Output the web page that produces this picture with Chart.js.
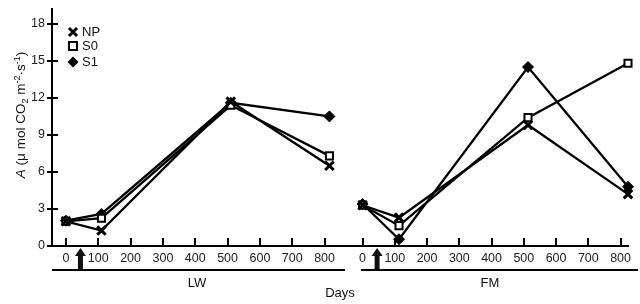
<!DOCTYPE html>
<html><head><meta charset="utf-8">
<script src="https://cdn.jsdelivr.net/npm/chart.js@4/dist/chart.umd.min.js"></script>
<style>
html,body{margin:0;padding:0;background:#fff;}
#wrap{position:relative;width:640px;height:304px;overflow:hidden;}
canvas{position:absolute;left:0;top:0;}
</style></head><body>
<div id="wrap"><canvas id="c1" width="640" height="304"></canvas><canvas id="c2" width="640" height="304"></canvas></div>
<script>
const seriesNames = ['NP', 'S0', 'S1'];
const lwDays = [0, 110, 510, 815];
const fmDays = [0, 113, 513, 823];
const lwNP = [2.0, 1.25, 11.7, 6.5];
const lwS0 = [2.0, 2.25, 11.4, 7.3];
const lwS1 = [2.05, 2.6, 11.6, 10.5];
const fmNP = [3.3, 2.3, 9.8, 4.2];
const fmS0 = [3.3, 1.65, 10.4, 14.8];
const fmS1 = [3.4, 0.55, 14.5, 4.8];
const xTicks = [0, 100, 200, 300, 400, 500, 600, 700, 800];
const yTicks = [0, 3, 6, 9, 12, 15, 18];
const arrowDay = 45;
const panelLabels = ['LW', 'FM'];
const xAxisTitle = 'Days';

const FONT = "'Liberation Sans', Arial, sans-serif";
const styles = [
  {pointStyle: 'crossRot', pointRadius: 6, pointBorderWidth: 3, pointBackgroundColor: '#000'},
  {pointStyle: 'rect', pointRadius: 5, pointBorderWidth: 2, pointBackgroundColor: '#fff'},
  {pointStyle: 'rectRot', pointRadius: 5.5, pointBorderWidth: 1, pointBackgroundColor: '#000'}
];
function makeDatasets(days, arrs) {
  return arrs.map((vals, i) => Object.assign({
    label: seriesNames[i],
    data: days.map((d, j) => ({x: d, y: vals[j]})),
    borderColor: '#000', pointBorderColor: '#000', borderWidth: 2.3,
    tension: 0, clip: false
  }, styles[i]));
}

function drawArrow(ctx, x) {
  ctx.save();
  ctx.fillStyle = '#111';
  ctx.beginPath();
  ctx.moveTo(x, 248);
  ctx.lineTo(x + 5.5, 256);
  ctx.lineTo(x + 2.5, 256);
  ctx.lineTo(x + 2.5, 270);
  ctx.lineTo(x - 2.5, 270);
  ctx.lineTo(x - 2.5, 256);
  ctx.lineTo(x - 5.5, 256);
  ctx.closePath();
  ctx.fill();
  ctx.restore();
}
function drawXTickMarks(ctx, chart) {
  const xs = chart.scales.x, b = chart.chartArea.bottom;
  ctx.save(); ctx.strokeStyle = '#000'; ctx.lineWidth = 2;
  xTicks.forEach(v => { const px = Math.round(xs.getPixelForValue(v)); ctx.beginPath(); ctx.moveTo(px, b); ctx.lineTo(px, b - 8); ctx.stroke(); });
  ctx.restore();
}
function marker(ctx, i, x, y) {
  ctx.save(); ctx.strokeStyle = '#000'; ctx.fillStyle = '#000';
  if (i === 0) {
    ctx.lineWidth = 3; const r = 4;
    ctx.beginPath(); ctx.moveTo(x - r, y - r); ctx.lineTo(x + r, y + r); ctx.moveTo(x + r, y - r); ctx.lineTo(x - r, y + r); ctx.stroke();
  } else if (i === 1) {
    ctx.lineWidth = 2; ctx.fillStyle = '#fff';
    ctx.fillRect(x - 4, y - 4, 8, 8); ctx.strokeRect(x - 4, y - 4, 8, 8);
  } else {
    ctx.beginPath(); ctx.moveTo(x, y - 5.5); ctx.lineTo(x + 5.5, y); ctx.lineTo(x, y + 5.5); ctx.lineTo(x - 5.5, y); ctx.closePath(); ctx.fill();
  }
  ctx.restore();
}

const leftPlugin = {
  id: 'leftDecor',
  beforeDraw(chart) {
    const ctx = chart.ctx; ctx.save(); ctx.fillStyle = '#fff'; ctx.fillRect(0, 0, chart.width, chart.height); ctx.restore();
  },
  afterDraw(chart) {
    const ctx = chart.ctx, ys = chart.scales.y, ca = chart.chartArea;
    ctx.save();
    ctx.strokeStyle = '#000'; ctx.lineWidth = 2;
    yTicks.forEach(v => { const py = Math.round(ys.getPixelForValue(v)); ctx.beginPath(); ctx.moveTo(ca.left - 5, py); ctx.lineTo(ca.left + 6, py); ctx.stroke(); });
    ctx.restore();
    drawXTickMarks(ctx, chart);
    drawArrow(ctx, chart.scales.x.getPixelForValue(arrowDay));
    ctx.save(); ctx.strokeStyle = '#000'; ctx.lineWidth = 2;
    ctx.beginPath(); ctx.moveTo(ca.left, 270); ctx.lineTo(345, 270); ctx.stroke(); ctx.restore();
    ctx.save(); ctx.fillStyle = '#111'; ctx.font = '13px ' + FONT; ctx.textAlign = 'center'; ctx.textBaseline = 'middle';
    ctx.fillText(panelLabels[0], 197, 283);
    ctx.fillText(xAxisTitle, 340, 293);
    ctx.restore();
    ctx.save(); ctx.font = '13px ' + FONT; ctx.fillStyle = '#111'; ctx.textBaseline = 'middle'; ctx.textAlign = 'left';
    const ly = [32, 46, 62];
    seriesNames.forEach((n, i) => { marker(ctx, i, 73, ly[i]); ctx.fillText(n, 82, ly[i] + 0.5); });
    ctx.restore();
    ctx.save();
    ctx.translate(20, 115); ctx.rotate(-Math.PI / 2);
    ctx.fillStyle = '#111'; ctx.textBaseline = 'alphabetic'; ctx.textAlign = 'left';
    const big = '13.5px ' + FONT, small = '9px ' + FONT;
    const parts = [
      {t: 'A', f: 'italic 13.5px ' + FONT, dy: 0},
      {t: ' (\u03bc mol CO', f: big, dy: 0},
      {t: '2', f: small, dy: 3},
      {t: ' m', f: big, dy: 0},
      {t: '-2', f: small, dy: -5},
      {t: '\u00b7s', f: big, dy: 0},
      {t: '-1', f: small, dy: -5},
      {t: ')', f: big, dy: 0}
    ];
    let total = 0;
    parts.forEach(p => { ctx.font = p.f; p.w = ctx.measureText(p.t).width; total += p.w; });
    let x = -total / 2;
    parts.forEach(p => { ctx.font = p.f; ctx.fillText(p.t, x, 4.5 + p.dy); x += p.w; });
    ctx.restore();
  }
};
const rightPlugin = {
  id: 'rightDecor',
  afterDraw(chart) {
    const ctx = chart.ctx;
    drawXTickMarks(ctx, chart);
    drawArrow(ctx, chart.scales.x.getPixelForValue(arrowDay));
    ctx.save(); ctx.strokeStyle = '#000'; ctx.lineWidth = 2;
    ctx.beginPath(); ctx.moveTo(361, 270); ctx.lineTo(638, 270); ctx.stroke(); ctx.restore();
    ctx.save(); ctx.fillStyle = '#111'; ctx.font = '13px ' + FONT; ctx.textAlign = 'center'; ctx.textBaseline = 'middle';
    ctx.fillText(panelLabels[1], 490, 283);
    ctx.restore();
  }
};

function xScale(min, max) {
  return {
    type: 'linear', min: min, max: max,
    afterBuildTicks: s => { s.ticks = xTicks.map(v => ({value: v})); },
    afterFit: s => { s.height = 58; s.paddingLeft = 0; s.paddingRight = 0; },
    grid: {display: false, drawTicks: false},
    border: {display: true, color: '#000', width: 2},
    ticks: {autoSkip: false, maxRotation: 0, padding: 5, color: '#222', font: {family: FONT, size: 12.5}}
  };
}
function yScale(show) {
  return {
    type: 'linear', min: 0, max: 19.2, display: show,
    afterBuildTicks: s => { s.ticks = yTicks.map(v => ({value: v})); },
    afterFit: s => { s.width = show ? 52 : 0; s.paddingTop = 0; s.paddingBottom = 0; },
    grid: {display: false, drawTicks: false},
    border: {display: true, color: '#000', width: 2},
    ticks: {padding: 7, color: '#222', font: {family: FONT, size: 12.5}}
  };
}
const common = {
  responsive: false, animation: false, devicePixelRatio: 1,
  plugins: {legend: {display: false}, tooltip: {enabled: false}}
};
new Chart(document.getElementById('c1'), {
  type: 'line',
  data: {datasets: makeDatasets(lwDays, [lwNP, lwS0, lwS1])},
  options: Object.assign({}, common, {
    layout: {padding: {left: 0, right: 297, top: 4, bottom: 0}},
    scales: {x: xScale(-43, 857), y: yScale(true)}
  }),
  plugins: [leftPlugin]
});
new Chart(document.getElementById('c2'), {
  type: 'line',
  data: {datasets: makeDatasets(fmDays, [fmNP, fmS0, fmS1])},
  options: Object.assign({}, common, {
    layout: {padding: {left: 340, right: 12, top: 4, bottom: 0}},
    scales: {x: xScale(-70, 823), y: yScale(false)}
  }),
  plugins: [rightPlugin]
});
</script>
</body></html>
